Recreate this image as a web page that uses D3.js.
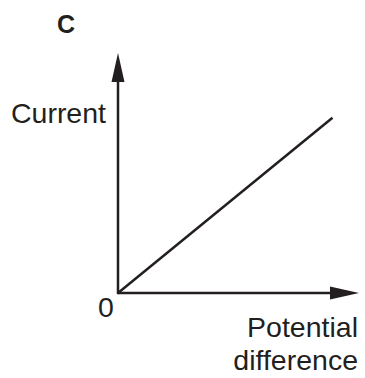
<!DOCTYPE html>
<html><head><meta charset="utf-8">
<script src="https://cdn.jsdelivr.net/npm/d3@7"></script>
<style>html,body{margin:0;padding:0;background:#fff;}</style>
</head><body>
<script>
const potential = [0, 0.89];
const current = [0, 0.73];
const panelLabel = "C";
const yLabel = "Current";
const xLabelLines = ["Potential", "difference"];
const originLabel = "0";

const W = 365, H = 378, ink = "#231f20";
const svg = d3.select("body").append("svg").attr("width", W).attr("height", H);
const x = d3.scaleLinear().domain([0, 1]).range([118, 359]);
const y = d3.scaleLinear().domain([0, 1]).range([293, 53]);
const font = "Liberation Sans, Arial, Helvetica, sans-serif";

// axes
svg.append("line").attr("x1", x(0)).attr("y1", y(0)).attr("x2", x(1) - 20).attr("y2", y(0))
  .attr("stroke", ink).attr("stroke-width", 2.5);
svg.append("line").attr("x1", x(0)).attr("y1", y(0) + 1.2).attr("x2", x(0)).attr("y2", y(1) + 20)
  .attr("stroke", ink).attr("stroke-width", 2.5);
// arrowheads
const L = 29, hw = 6.5;
svg.append("path").attr("fill", ink)
  .attr("d", `M${x(1)},${y(0)} L${x(1) - L},${y(0) - hw} L${x(1) - L},${y(0) + hw} Z`);
svg.append("path").attr("fill", ink)
  .attr("d", `M${x(0)},${y(1)} L${x(0) - hw},${y(1) + L} L${x(0) + hw},${y(1) + L} Z`);

// data line
const line = d3.line().x(d => x(d[0])).y(d => y(d[1]));
svg.append("path").datum(potential.map((p, i) => [p, current[i]]))
  .attr("d", line).attr("fill", "none").attr("stroke", ink).attr("stroke-width", 2.5);

// texts
svg.append("text").attr("x", 66).attr("y", 33).attr("text-anchor", "middle")
  .attr("font-family", font).attr("font-weight", "bold").attr("font-size", 25).attr("fill", ink).text(panelLabel);
svg.append("text").attr("x", 106).attr("y", 123).attr("text-anchor", "end")
  .attr("font-family", font).attr("font-size", 28.5).attr("fill", ink).text(yLabel);
svg.append("text").attr("x", 106).attr("y", 317).attr("text-anchor", "middle")
  .attr("font-family", font).attr("font-size", 28.5).attr("fill", ink).text(originLabel);
xLabelLines.forEach((t, i) => {
  svg.append("text").attr("x", 358).attr("y", 337 + i * 33).attr("text-anchor", "end")
    .attr("font-family", font).attr("font-size", 28.5).attr("fill", ink).text(t);
});
</script>
</body></html>
